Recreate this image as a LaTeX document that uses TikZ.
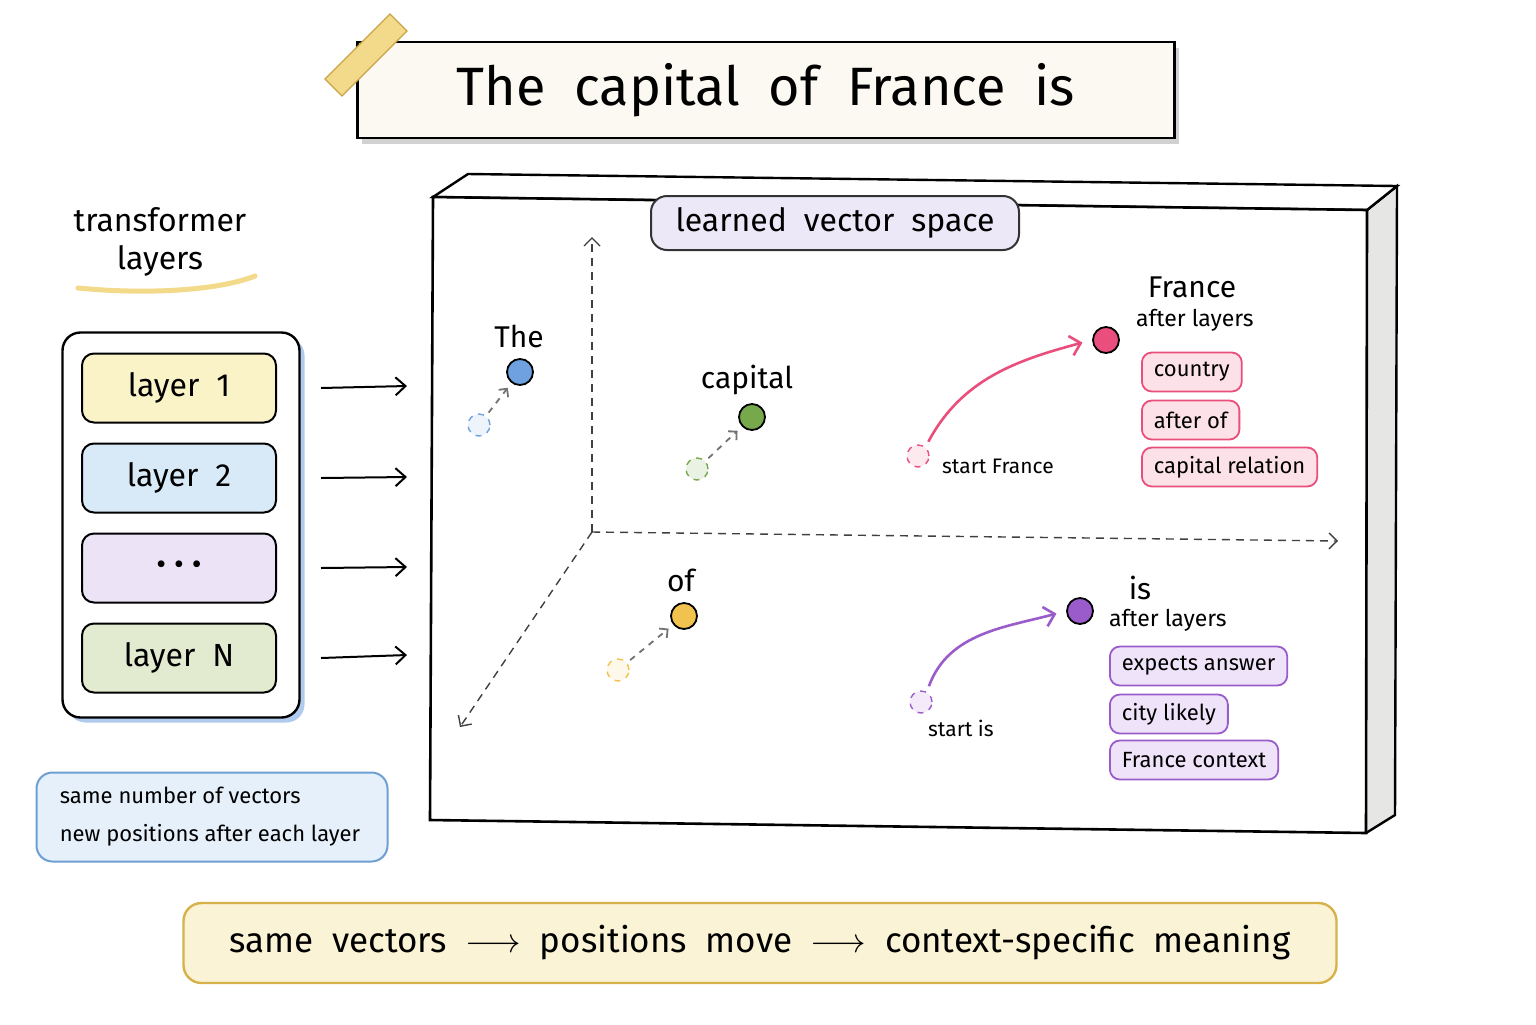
\documentclass[tikz,border=0pt]{standalone}
\usepackage{fontspec}
\setmainfont{Fira Sans}
\usetikzlibrary{positioning, arrows.meta, shapes.geometric}

\definecolor{cream}{HTML}{FBF9F1}
\definecolor{tape}{HTML}{F3D98A}
\definecolor{tapeline}{HTML}{C9A445}
\definecolor{lyellow}{HTML}{FBF3C8}
\definecolor{lblue}{HTML}{D8EAF8}
\definecolor{lpurple}{HTML}{EDE3F7}
\definecolor{lgreen}{HTML}{E2EAD0}
\definecolor{noteline}{HTML}{6E9FD3}
\definecolor{notefill}{HTML}{E6F0FA}
\definecolor{spacefill}{HTML}{ECE8F8}
\definecolor{dotblue}{HTML}{6FA1E0}
\definecolor{dotgreen}{HTML}{76A94C}
\definecolor{dotyellow}{HTML}{F2C24F}
\definecolor{dotpink}{HTML}{EA4E7C}
\definecolor{dotpurple}{HTML}{9B5CCB}
\definecolor{pinkfill}{HTML}{FCE1E9}
\definecolor{purplefill}{HTML}{EFE3FA}
\definecolor{bannerfill}{HTML}{FBF3D6}
\definecolor{bannerline}{HTML}{D7B24A}
\definecolor{sideface}{HTML}{E6E6E4}

\tikzstyle{layerbox} = [rectangle, rounded corners=6pt, minimum width=97pt, minimum height=34.5pt, draw=black, line width=1pt, font=\fontsize{16}{18}\selectfont]
\tikzstyle{tagpink} = [rectangle, rounded corners=5pt, draw=dotpink, fill=pinkfill, line width=0.9pt, minimum height=19.5pt, inner xsep=6pt, anchor=west, font=\fontsize{11}{13}\selectfont]
\tikzstyle{tagpurple} = [rectangle, rounded corners=5pt, draw=dotpurple, fill=purplefill, line width=0.9pt, minimum height=19.5pt, inner xsep=6pt, anchor=west, font=\fontsize{11}{13}\selectfont]
\tikzstyle{token} = [circle, draw=black, line width=0.9pt, minimum size=13pt, inner sep=0pt]
\tikzstyle{startpt} = [circle, dashed, line width=0.7pt, minimum size=11pt, inner sep=0pt]
\tikzstyle{wordlabel} = [font=\fontsize{15}{17}\selectfont]
\tikzstyle{smalllabel} = [font=\fontsize{11.5}{13}\selectfont, anchor=west]
\tikzstyle{arrow} = [line width=1pt, -{Straight Barb[length=5pt,width=9pt]}]
\tikzstyle{moveline} = [dashed, black!55, line width=0.9pt, shorten <=2pt, shorten >=3pt, -{Straight Barb[length=3pt,width=6pt]}]
\tikzstyle{axis} = [dash pattern=on 4pt off 3pt, black!75, line width=0.7pt, -{Straight Barb[length=4pt,width=8pt]}]
\tikzstyle{bendarrow} = [line width=1.3pt, shorten <=3pt, shorten >=5pt, -{Straight Barb[length=5pt,width=10pt]}]

\begin{document}
\begin{tikzpicture}[x=0.5pt, y=-0.5pt, node distance=45pt]
\useasboundingbox (0,0) rectangle (1536,1024);
\fill[white] (0,0) rectangle (1536,1024);

% title strip
\fill[black!18] (362,48) rectangle (1179,144);
\node (title) [rectangle, draw=black, line width=1.2pt, fill=cream, minimum width=408.5pt, minimum height=48pt, font=\fontsize{27}{30}\selectfont] at (766,90) {The\ \ capital\ \ of\ \ France\ \ is};
\node (tape) [rectangle, rotate=45, fill=tape, draw=tapeline, line width=0.6pt, minimum width=46pt, minimum height=12pt] at (366,55) {};

% left column
\node (tflabel) [align=center, font=\fontsize{16}{19}\selectfont] at (160,242) {transformer\\layers};
\draw[tape, line width=2.5pt, line cap=round] (78,288) .. controls (150,295) and (220,290) .. (255,276);

\node (stackshadow) [rectangle, rounded corners=9pt, fill=dotblue!55, minimum width=118.5pt, minimum height=192.5pt] at (186,530) {};
\node (stack) [rectangle, rounded corners=9pt, draw=black, line width=1.2pt, fill=white, minimum width=118.5pt, minimum height=192.5pt] at (181,525) {};
\node (layer1) [layerbox, fill=lyellow] at (179,388) {layer\ \ 1};
\node (layer2) [layerbox, fill=lblue, below of=layer1] {layer\ \ 2};
\node (layerdots) [layerbox, fill=lpurple, below of=layer2] {\fontsize{15}{16}\selectfont\textbullet\ \textbullet\ \textbullet};
\node (layerN) [layerbox, fill=lgreen, below of=layerdots] {layer\ \ N};

\coordinate (in1) at (407,386);
\coordinate (in2) at (407,477);
\coordinate (in3) at (407,567);
\coordinate (in4) at (407,655);
\draw [arrow] ([xshift=22pt]layer1.east) -- (in1);
\draw [arrow] ([xshift=22pt]layer2.east) -- (in2);
\draw [arrow] ([xshift=22pt]layerdots.east) -- (in3);
\draw [arrow] ([xshift=22pt]layerN.east) -- (in4);

\node (note) [rectangle, rounded corners=8pt, draw=noteline, fill=notefill, line width=1pt, minimum width=175.5pt, minimum height=44.5pt, align=left, font=\fontsize{11}{19}\selectfont] at (212,817) {same\ number\ of\ vectors\\new\ positions\ after\ each\ layer\hspace*{2pt}};

% vector space panel
\fill[sideface] (1367,210) -- (1397,186) -- (1395,815) -- (1366,833) -- cycle;
\draw[line width=1.2pt] (1367,210) -- (1397,186) -- (1395,815) -- (1366,833);
\draw[line width=1.2pt, fill=white] (433,197) -- (468,174) -- (1397,186) -- (1367,210) -- cycle;
\draw[line width=1.3pt, fill=white] (433,197) -- (1367,210) -- (1366,833) -- (430,820) -- cycle;

\node (space) [rectangle, rounded corners=8pt, draw=black!80, fill=spacefill, line width=1pt, minimum width=184pt, minimum height=27pt, font=\fontsize{16}{18}\selectfont] at (835,223) {learned\ \ vector\ \ space};

% axes
\coordinate (origin) at (592,532);
\coordinate (yend) at (592,237);
\coordinate (xend) at (1338,541);
\coordinate (zend) at (460,727);
\draw [axis] (origin) -- (yend);
\draw [axis] (origin) -- (xend);
\draw [axis] (origin) -- (zend);

% tokens
\node (thedot) [token, fill=dotblue] at (520,372) {};
\node (thestart) [startpt, draw=dotblue, fill=dotblue!12] at (479,425) {};
\node (thelabel) [wordlabel] at (519,336) {The};
\draw [moveline] (thestart) -- (thedot);

\node (capdot) [token, fill=dotgreen] at (752,417) {};
\node (capstart) [startpt, draw=dotgreen, fill=dotgreen!15] at (697,469) {};
\node (caplabel) [wordlabel] at (747,380) {capital};
\draw [moveline] (capstart) -- (capdot);

\node (ofdot) [token, fill=dotyellow] at (684,616) {};
\node (ofstart) [startpt, draw=dotyellow, fill=dotyellow!12] at (618,670) {};
\node (oflabel) [wordlabel] at (681,580) {of};
\draw [moveline] (ofstart) -- (ofdot);

% France
\node (frdot) [token, fill=dotpink] at (1106,340) {};
\node (frstart) [startpt, draw=dotpink, fill=dotpink!12] at (918,456) {};
\node (frlabel) [wordlabel] at (1192,287) {France};
\node (frafter) [smalllabel] at (1129,320) {after\ layers};
\node (frstartlabel) [smalllabel, font=\fontsize{10.5}{12}\selectfont] at (935,466) {start\ France};
\draw [bendarrow, dotpink] (frstart.50) to[out=62, in=195] (frdot.west);
\node (country) [tagpink] at (1141,372) {country};
\node (afterof) [tagpink] at (1141,420) {after\ of};
\node (caprel) [tagpink] at (1141,467) {capital\ relation};

% is
\node (isdot) [token, fill=dotpurple] at (1080,611) {};
\node (isstart) [startpt, draw=dotpurple, fill=dotpurple!12] at (921,702) {};
\node (islabel) [wordlabel] at (1140,588) {is};
\node (isafter) [smalllabel] at (1102,620) {after\ layers};
\node (isstartlabel) [smalllabel, font=\fontsize{10.5}{12}\selectfont] at (921,728) {start\ is};
\draw [bendarrow, dotpurple] (isstart.60) to[out=70, in=195] (isdot.west);
\node (expects) [tagpurple] at (1109,666) {expects\ answer};
\node (city) [tagpurple] at (1109,714) {city\ likely};
\node (frctx) [tagpurple] at (1109,760) {France\ context};

% bottom banner
\node (summary) [rectangle, rounded corners=9pt, draw=bannerline, fill=bannerfill, line width=1.2pt, minimum width=576.5pt, minimum height=40pt, font=\fontsize{17.5}{21}\selectfont] at (760,943) {same\ \ vectors\ \ $\longrightarrow$\ \ positions\ \ move\ \ $\longrightarrow$\ \ context-specific\ \ meaning};
\end{tikzpicture}
\end{document}
